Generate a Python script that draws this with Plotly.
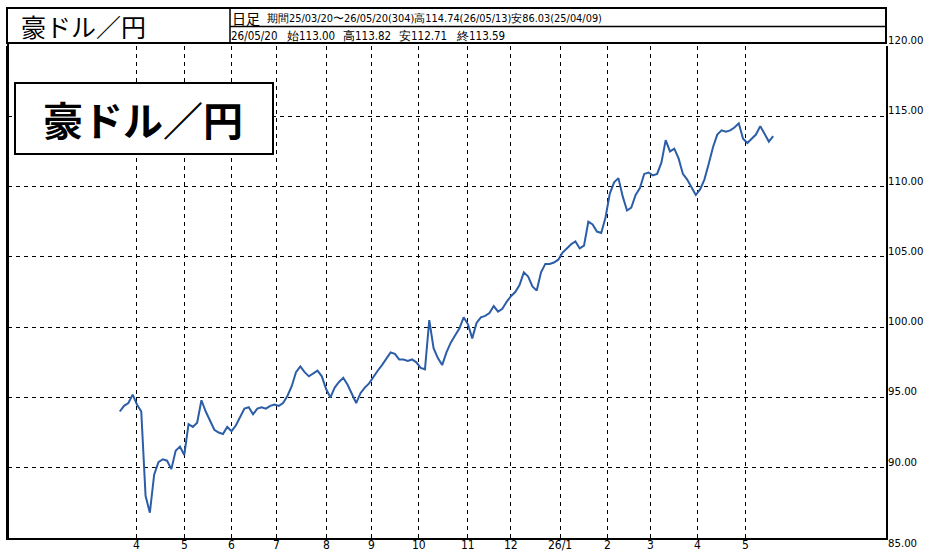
import pandas as pd
import plotly.graph_objects as go

# ---------------- data ----------------
start_date = "2025-03-20"
end_date = "2026-05-20"
# closing levels read every second business day (AUD/JPY)
close_vals = [
    94.0, 94.4, 94.6, 95.2, 94.5, 94.0, 88.0, 86.8, 89.5, 90.4,
    90.6, 90.5, 89.9, 91.2, 91.5, 90.9, 93.1, 92.9, 93.2, 94.8,
    94.0, 93.3, 92.7, 92.5, 92.4, 92.9, 92.6, 93.0, 93.6, 94.2,
    94.3, 93.8, 94.2, 94.3, 94.2, 94.4, 94.5, 94.4, 94.6, 95.1,
    95.8, 96.8, 97.2, 96.8, 96.5, 96.7, 96.9, 96.5, 95.6, 95.0,
    95.7, 96.1, 96.4, 95.9, 95.3, 94.6, 95.3, 95.7, 96.0, 96.5,
    96.9, 97.3, 97.8, 98.2, 98.1, 97.7, 97.7, 97.6, 97.7, 97.5,
    97.1, 97.0, 100.5, 98.5, 97.8, 97.3, 98.2, 98.9, 99.4, 99.9,
    100.7, 100.2, 99.2, 100.3, 100.7, 100.8, 101.0, 101.5, 101.1, 101.3,
    101.8, 102.2, 102.5, 103.0, 103.9, 103.6, 102.9, 102.6, 103.9, 104.5,
    104.5, 104.6, 104.8, 105.3, 105.6, 105.9, 106.1, 105.6, 105.8, 107.5,
    107.3, 106.8, 106.7, 107.8, 109.5, 110.3, 110.6, 109.3, 108.3, 108.5,
    109.4, 109.9, 110.9, 111.0, 110.8, 110.9, 111.7, 113.3, 112.5, 112.7,
    112.0, 110.9, 110.5, 110.0, 109.4, 109.8, 110.5, 111.6, 112.8, 113.7,
    114.0, 113.9, 114.0, 114.2, 114.5, 113.4, 113.1, 113.4, 113.7, 114.3,
    113.8, 113.2, 113.59,
]
tick_months = ["2025-04-01", "2025-05-01", "2025-06-01", "2025-07-01", "2025-08-01",
               "2025-09-01", "2025-10-01", "2025-11-01", "2025-12-01", "2026-01-01",
               "2026-02-01", "2026-03-01", "2026-04-01", "2026-05-01"]
tick_labels = ["4", "5", "6", "7", "8", "9", "10", "11", "12", "26/1", "2", "3", "4", "5"]
y_ticks = [85, 90, 95, 100, 105, 110, 115, 120]

title_text = "豪ドル／円"
bar_type_text = "日足"
period_text = "期間25/03/20〜26/05/20(304)高114.74(26/05/13)安86.03(25/04/09)"
last_date_text = "26/05/20"
last_ohlc_names = ["始", "高", "安", "終"]
last_ohlc_vals = [113.00, 113.82, 112.71, 113.59]

# ---------------- positions on a business-day axis ----------------
cal = pd.bdate_range("2024-12-01", "2026-12-31")
base = cal.get_loc(pd.Timestamp(start_date))
dates = pd.bdate_range(start_date, end_date)[::2][:len(close_vals)]
xpos = [cal.get_loc(d) - base for d in dates]
tick_pos = [cal.get_loc(cal[cal >= pd.Timestamp(m)][0]) - base for m in tick_months]

# ---------------- layout geometry (pixels) ----------------
W, H = 925, 552
L, R, T, B = 8, 886, 46, 538


def px(x):
    return (x - L) / (R - L)


def py(y):
    return (B - y) / (B - T)


NUM_FONT = "Liberation Sans Narrow, DejaVu Sans Condensed, sans-serif"
JP_FONT = "Noto Sans CJK JP, sans-serif"

fig = go.Figure()
fig.add_trace(go.Scatter(x=xpos, y=close_vals, mode="lines",
                         line=dict(color="#2c5ea8", width=2),
                         hoverinfo="skip", showlegend=False))

shapes = [
    # header outer box
    dict(type="rect", xref="paper", yref="paper", x0=px(7), x1=px(886), y0=py(43), y1=py(8),
         line=dict(color="black", width=2), fillcolor="white", layer="above"),
    dict(type="line", xref="paper", yref="paper", x0=px(230), x1=px(230), y0=py(43), y1=py(8),
         line=dict(color="black", width=1.5), layer="above"),
    dict(type="line", xref="paper", yref="paper", x0=px(230), x1=px(886), y0=py(26.5), y1=py(26.5),
         line=dict(color="black", width=1.5), layer="above"),
    # left border from header down
    dict(type="line", xref="paper", yref="paper", x0=px(8), x1=px(8), y0=py(538), y1=py(43),
         line=dict(color="black", width=2), layer="above"),
    # inner title box
    dict(type="rect", xref="paper", yref="paper", x0=px(15), x1=px(273), y0=py(154), y1=py(83),
         line=dict(color="black", width=2), fillcolor="white", layer="above"),
]

annotations = [
    dict(text=title_text, xref="paper", yref="paper", x=px(19), y=py(26), xanchor="left",
         yanchor="middle", showarrow=False, font=dict(family=JP_FONT, size=25, color="black")),
    dict(text=bar_type_text, xref="paper", yref="paper", x=px(230), y=py(17.5), xanchor="left",
         yanchor="middle", showarrow=False, font=dict(family=JP_FONT, size=14, color="black")),
    dict(text=period_text, xref="paper", yref="paper", x=px(265), y=py(18.5), xanchor="left",
         yanchor="middle", showarrow=False, font=dict(family=NUM_FONT, size=10.9, color="black")),
    dict(text=last_date_text, xref="paper", yref="paper", x=px(229), y=py(35.5), xanchor="left",
         yanchor="middle", showarrow=False, font=dict(family=NUM_FONT, size=11.5, color="black")),
    dict(text="<b>" + title_text + "</b>", xref="paper", yref="paper", x=px(143), y=py(119),
         xanchor="center", yanchor="middle", showarrow=False,
         font=dict(family=JP_FONT, size=40, color="black")),
]
ohlc_x = [285, 341, 397, 454]
for nm, val, xx in zip(last_ohlc_names, last_ohlc_vals, ohlc_x):
    annotations.append(dict(
        text=f"{nm}{val:.2f}", xref="paper", yref="paper", x=px(xx), y=py(35.5),
        xanchor="left", yanchor="middle", showarrow=False,
        font=dict(family=NUM_FONT, size=11.5, color="black")))
for v in y_ticks:
    annotations.append(dict(
        text=f"{v:.2f}", xref="paper", yref="y", x=1, y=v, xanchor="left",
        yanchor="top" if v == y_ticks[0] else "bottom",
        xshift=0, yshift=3 if v == y_ticks[0] else -3, showarrow=False,
        font=dict(family=NUM_FONT, size=11.3, color="black")))
for tp, tl in zip(tick_pos, tick_labels):
    annotations.append(dict(
        text=tl, xref="x", yref="paper", x=tp, y=0, xanchor="center", yanchor="top",
        yshift=2, showarrow=False, font=dict(family=NUM_FONT, size=12, color="black")))

fig.update_layout(
    template="none",
    width=W, height=H,
    margin=dict(l=L, r=W - R, t=T, b=H - B, pad=0, autoexpand=False),
    paper_bgcolor="white", plot_bgcolor="white",
    shapes=shapes, annotations=annotations,
    xaxis=dict(range=[-52, 356.5], tickvals=tick_pos, showticklabels=False,
               showgrid=True, gridcolor="black", gridwidth=1, griddash="4px,4px",
               zeroline=False, showline=True, linecolor="black", linewidth=2,
               ticks="", automargin=False, fixedrange=True),
    yaxis=dict(range=[85, 120], tickvals=y_ticks, side="right", showticklabels=False,
               showgrid=True, gridcolor="black", gridwidth=1, griddash="4px,4px",
               zeroline=False, showline=True, mirror=True, linecolor="black", linewidth=2,
               ticks="", automargin=False, fixedrange=True),
)

fig.write_html("out.html", config={"displayModeBar": False},
               post_script="document.body.style.margin='0px';document.body.style.padding='0px';")
